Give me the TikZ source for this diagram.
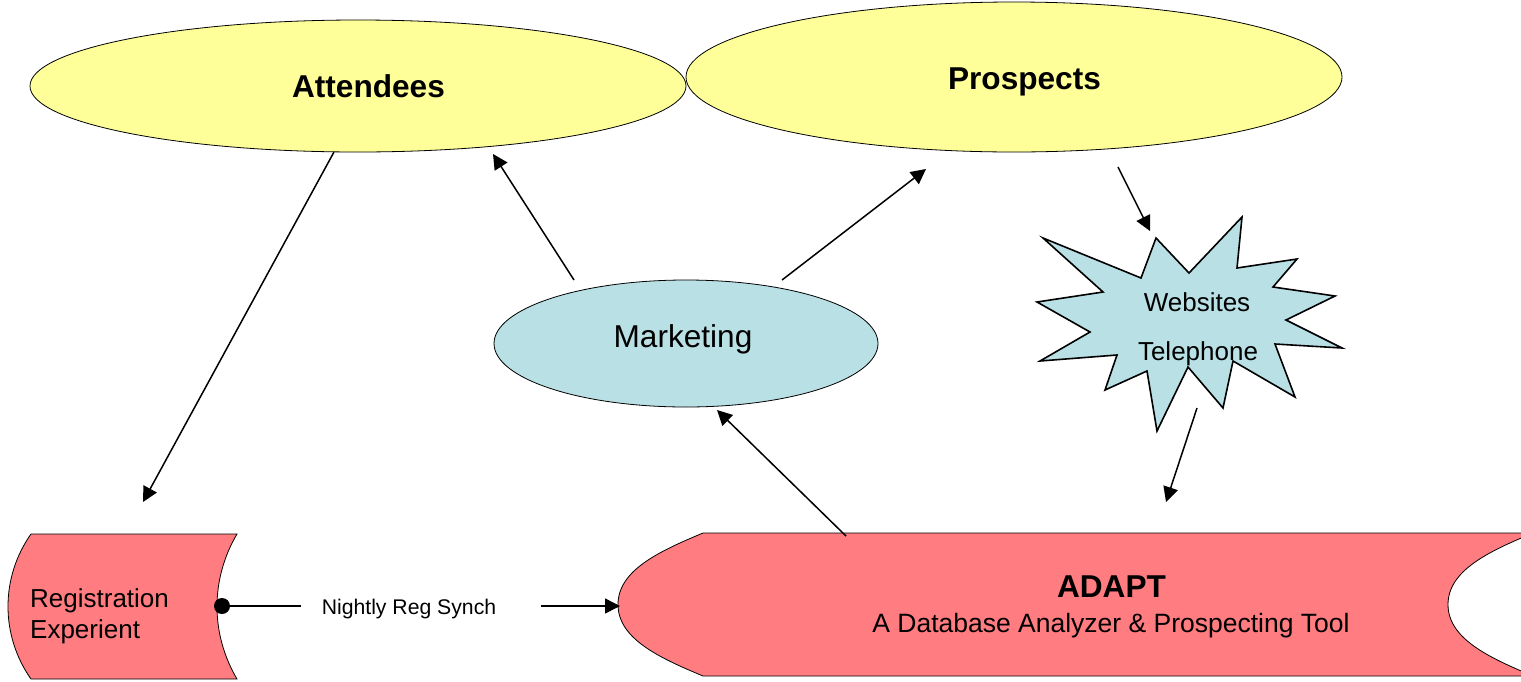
\documentclass[tikz,border=0pt]{standalone}
\usepackage{fontspec}
\setmainfont{Liberation Sans}
\usetikzlibrary{shapes.geometric,arrows.meta}
\definecolor{ylw}{HTML}{FFFF99}
\definecolor{lblue}{RGB}{185,224,228}
\definecolor{pinkf}{HTML}{FF7C80}
\begin{document}
\begin{tikzpicture}[x=1pt,y=-1pt,
  ell/.style={ellipse,draw=black,line width=0.8pt,inner sep=0pt},
  yell/.style={ell,fill=ylw,minimum width=656pt},
  pinkshape/.style={draw=black,line width=0.8pt,fill=pinkf},
  starshape/.style={draw=black,line width=1.6pt,fill=lblue,line join=miter},
  conn/.style={line width=1.5pt,-{Triangle[length=15pt,width=15pt]}},
  plain/.style={line width=1.5pt},
  txt/.style={inner sep=0pt,anchor=base},
  bigb/.style={txt,font=\fontsize{31.6}{36}\bfseries\selectfont},
  big/.style={txt,font=\fontsize{31.6}{36}\selectfont},
  mid/.style={txt,font=\fontsize{26}{30}\selectfont},
  small/.style={txt,font=\fontsize{21.2}{25}\selectfont}
]
\useasboundingbox (0,0) rectangle (1521,681);

% top ellipses
\node[yell,minimum height=132pt] (att) at (358,86) {};
\node[yell,minimum height=150pt] (pro) at (1014,77) {};
\node[bigb] (attT) at (368.5,97.5) {Attendees};
\node[bigb] (proT) at (1024.5,89) {Prospects};

% marketing
\node[ell,fill=lblue,minimum width=384pt,minimum height=127pt] (mkt) at (686,343.5) {};
\node[big] (mktT) at (683,347) {Marketing};

% star
\path[starshape] (1156,238) -- (1189,273) -- (1242,217) -- (1237,268) -- (1297,259)
  -- (1273,287) -- (1335,296) -- (1286,320) -- (1342,348) -- (1275,344)
  -- (1295,397) -- (1233,361) -- (1223,408) -- (1188,367) -- (1157,431)
  -- (1147,371) -- (1105,390) -- (1117,355) -- (1040,361) -- (1090,332)
  -- (1037,302) -- (1103,292) -- (1043,238) -- (1141,278) -- cycle;
\node[mid] (web) at (1197,311.5) {Websites};
\node[mid] (tel) at (1198,360) {Telephone};

% registration shape
\path[pinkshape] (31,534) -- (237,534)
  .. controls (224,556) and (217,581) .. (217,606.5)
  .. controls (217,632) and (224,657) .. (237,679)
  -- (31,679)
  .. controls (16,657.8) and (8,632.5) .. (8,606.5)
  .. controls (8,580.5) and (16,555.2) .. cycle;
\node[mid,anchor=base west] (reg1) at (30,607) {Registration};
\node[mid,anchor=base west] (reg2) at (30,638) {Experient};

% ADAPT shape
\path[pinkshape] (703,533) -- (1533,533)
  .. controls (1490,551) and (1448,570) .. (1448,604.5)
  .. controls (1448,639) and (1490,658) .. (1533,676)
  -- (703,676)
  .. controls (660,658) and (618,639) .. (618,604.5)
  .. controls (618,570) and (660,551) .. cycle;
\node[bigb] (adapt) at (1111.5,597) {ADAPT};
\node[mid,font=\fontsize{26.5}{30}\selectfont] (adaptsub) at (1111,632) {A Database Analyzer \& Prospecting Tool};

% connector end points
\coordinate (a1s) at (334,152);  \coordinate (a1e) at (143,502);
\coordinate (a2s) at (574,280);  \coordinate (a2e) at (493,154);
\coordinate (a3s) at (782,280);  \coordinate (a3e) at (926,169);
\coordinate (a4s) at (1118,167); \coordinate (a4e) at (1150,231);
\coordinate (a5s) at (1197,408); \coordinate (a5e) at (1166,502);
\coordinate (a6s) at (846,536);  \coordinate (a6e) at (717,410);
\coordinate (dot) at (222,606);
\coordinate (s1e) at (301,606);
\coordinate (s2s) at (541,606);  \coordinate (s2e) at (620,606);

\draw[conn] (a1s) -- (a1e);
\draw[conn] (a2s) -- (a2e);
\draw[conn] (a3s) -- (a3e);
\draw[conn] (a4s) -- (a4e);
\draw[conn] (a5s) -- (a5e);
\draw[conn] (a6s) -- (a6e);

\fill[black] (dot) circle[radius=8pt];
\draw[plain] (dot) -- (s1e);
\node[small] (sync) at (409,614.5) {Nightly Reg Synch};
\draw[conn] (s2s) -- (s2e);
\end{tikzpicture}
\end{document}
